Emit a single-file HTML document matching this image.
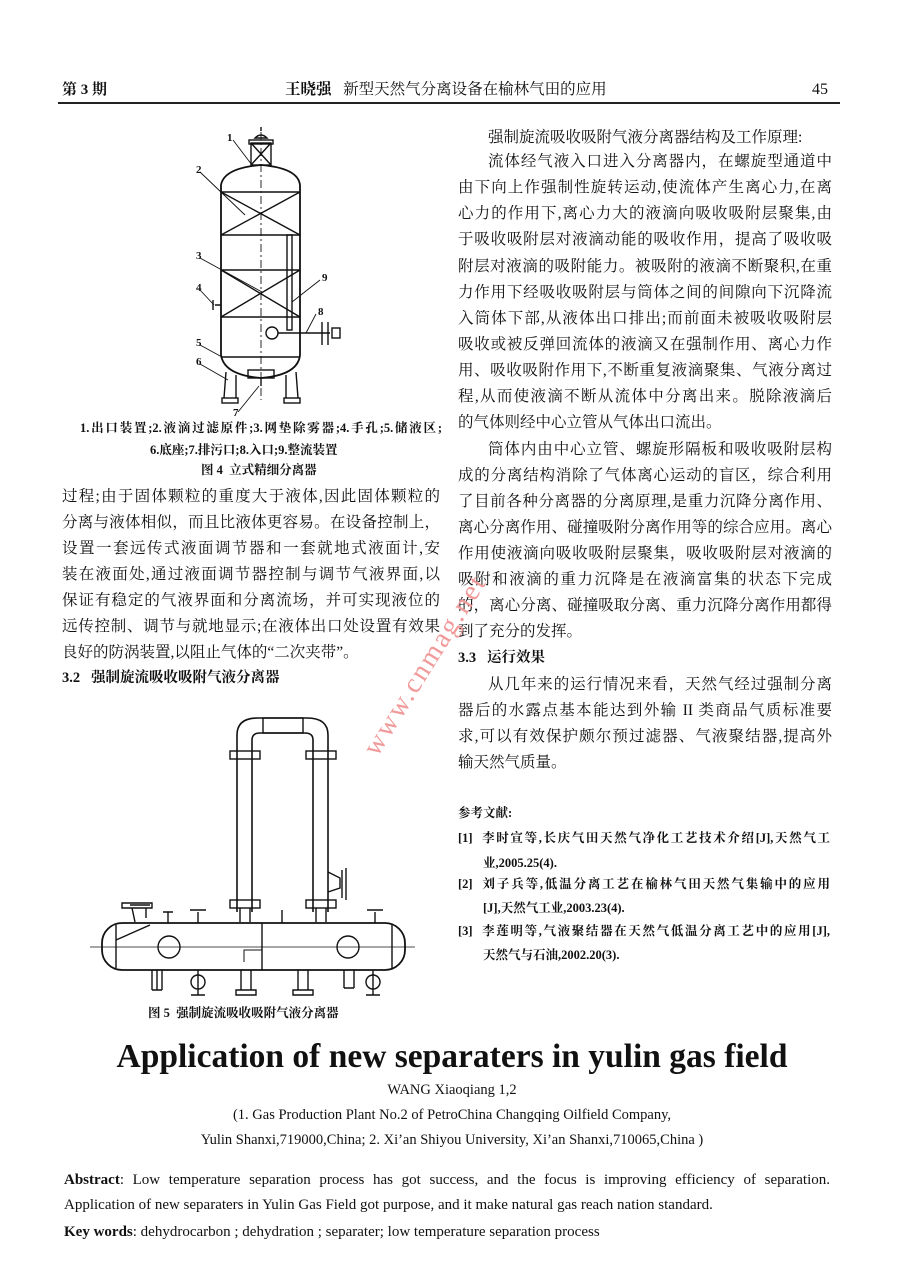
<!DOCTYPE html>
<html><head><meta charset="utf-8">
<style>
body{margin:0;background:#fff;}
#p{position:relative;width:904px;height:1262px;overflow:hidden;background:#fff;font-family:"Liberation Serif","Noto Serif CJK SC","Noto Sans CJK SC",serif;color:#111;}
.l{position:absolute;white-space:nowrap;font-size:15.5px;line-height:20px;}
.j{text-align:justify;text-align-last:justify;}
.s{font-size:12.5px;font-weight:bold;}
.e{font-family:"Liberation Serif",serif;}
svg{position:absolute;left:0;top:0;}
</style></head><body><div id="p">

<div class="l" style="left:62px;top:80px;font-weight:bold;font-size:15px">第 3 期</div>
<div class="l" style="left:285px;top:80px;font-size:15.5px"><b>王晓强</b>&nbsp;&nbsp;&nbsp;新型天然气分离设备在榆林气田的应用</div>
<div class="l e" style="left:812px;top:80px;font-size:16px">45</div>
<div style="position:absolute;left:58px;top:102px;width:782px;height:2px;background:#222"></div>

<!-- right column -->
<div class="l" style="left:488px;top:128px">强制旋流吸收吸附气液分离器结构及工作原理:</div>
<div class="l j" style="left:488px;top:152px;width:344px">流体经气液入口进入分离器内，在螺旋型通道中</div>
<div class="l j" style="left:458px;top:178px;width:374px">由下向上作强制性旋转运动,使流体产生离心力,在离</div>
<div class="l j" style="left:458px;top:204px;width:374px">心力的作用下,离心力大的液滴向吸收吸附层聚集,由</div>
<div class="l j" style="left:458px;top:230px;width:374px">于吸收吸附层对液滴动能的吸收作用，提高了吸收吸</div>
<div class="l j" style="left:458px;top:257px;width:374px">附层对液滴的吸附能力。被吸附的液滴不断聚积,在重</div>
<div class="l j" style="left:458px;top:283px;width:374px">力作用下经吸收吸附层与筒体之间的间隙向下沉降流</div>
<div class="l j" style="left:458px;top:309px;width:374px">入筒体下部,从液体出口排出;而前面未被吸收吸附层</div>
<div class="l j" style="left:458px;top:335px;width:374px">吸收或被反弹回流体的液滴又在强制作用、离心力作</div>
<div class="l j" style="left:458px;top:361px;width:374px">用、吸收吸附作用下,不断重复液滴聚集、气液分离过</div>
<div class="l j" style="left:458px;top:387px;width:374px">程,从而使液滴不断从流体中分离出来。脱除液滴后</div>
<div class="l" style="left:458px;top:413px">的气体则经中心立管从气体出口流出。</div>
<div class="l j" style="left:488px;top:440px;width:344px">筒体内由中心立管、螺旋形隔板和吸收吸附层构</div>
<div class="l j" style="left:458px;top:466px;width:374px">成的分离结构消除了气体离心运动的盲区，综合利用</div>
<div class="l j" style="left:458px;top:492px;width:374px">了目前各种分离器的分离原理,是重力沉降分离作用、</div>
<div class="l j" style="left:458px;top:518px;width:374px">离心分离作用、碰撞吸附分离作用等的综合应用。离心</div>
<div class="l j" style="left:458px;top:544px;width:374px">作用使液滴向吸收吸附层聚集，吸收吸附层对液滴的</div>
<div class="l j" style="left:458px;top:570px;width:374px">吸附和液滴的重力沉降是在液滴富集的状态下完成</div>
<div class="l j" style="left:458px;top:596px;width:374px">的，离心分离、碰撞吸取分离、重力沉降分离作用都得</div>
<div class="l" style="left:458px;top:622px">到了充分的发挥。</div>
<div class="l" style="left:458px;top:648px;font-weight:bold;font-size:14.5px">3.3&nbsp;&nbsp;&nbsp;运行效果</div>
<div class="l j" style="left:488px;top:675px;width:344px">从几年来的运行情况来看，天然气经过强制分离</div>
<div class="l j" style="left:458px;top:701px;width:374px">器后的水露点基本能达到外输 II 类商品气质标准要</div>
<div class="l j" style="left:458px;top:727px;width:374px">求,可以有效保护颇尔预过滤器、气液聚结器,提高外</div>
<div class="l" style="left:458px;top:753px">输天然气质量。</div>

<div class="l s" style="left:458px;top:803px">参考文献:</div>
<div class="l s j" style="left:458px;top:828px;width:372px">[1]&nbsp;&nbsp;李时宣等,长庆气田天然气净化工艺技术介绍[J],天然气工</div>
<div class="l s" style="left:483px;top:853px">业,2005.25(4).</div>
<div class="l s j" style="left:458px;top:874px;width:372px">[2]&nbsp;&nbsp;刘子兵等,低温分离工艺在榆林气田天然气集输中的应用</div>
<div class="l s" style="left:483px;top:898px">[J],天然气工业,2003.23(4).</div>
<div class="l s j" style="left:458px;top:921px;width:372px">[3]&nbsp;&nbsp;李莲明等,气液聚结器在天然气低温分离工艺中的应用[J],</div>
<div class="l s" style="left:483px;top:945px">天然气与石油,2002.20(3).</div>

<!-- left column -->
<div class="l s j" style="left:80px;top:418px;width:362px">1.出口装置;2.液滴过滤原件;3.网垫除雾器;4.手孔;5.储液区;</div>
<div class="l s" style="left:150px;top:440px">6.底座;7.排污口;8.入口;9.整流装置</div>
<div class="l s" style="left:201px;top:460px">图 4&nbsp;&nbsp;立式精细分离器</div>
<div class="l j" style="left:62px;top:487px;width:378px">过程;由于固体颗粒的重度大于液体,因此固体颗粒的</div>
<div class="l j" style="left:62px;top:513px;width:378px">分离与液体相似，而且比液体更容易。在设备控制上，</div>
<div class="l j" style="left:62px;top:539px;width:378px">设置一套远传式液面调节器和一套就地式液面计,安</div>
<div class="l j" style="left:62px;top:565px;width:378px">装在液面处,通过液面调节器控制与调节气液界面,以</div>
<div class="l j" style="left:62px;top:591px;width:378px">保证有稳定的气液界面和分离流场，并可实现液位的</div>
<div class="l j" style="left:62px;top:617px;width:378px">远传控制、调节与就地显示;在液体出口处设置有效果</div>
<div class="l" style="left:62px;top:643px">良好的防涡装置,以阻止气体的“二次夹带”。</div>
<div class="l" style="left:62px;top:668px;font-weight:bold;font-size:14.5px">3.2&nbsp;&nbsp;&nbsp;强制旋流吸收吸附气液分离器</div>
<div class="l s" style="left:148px;top:1003px">图 5&nbsp;&nbsp;强制旋流吸收吸附气液分离器</div>

<svg width="904" height="1262" viewBox="0 0 904 1262" fill="none" stroke="#111" stroke-width="1.4">
<path d="M255,138 Q261,132 267,138 Z M261,131 V127"/>
<rect x="251" y="143" width="20" height="22"/><rect x="249" y="140" width="24" height="4"/>
<path d="M251,143 L271,165 M271,143 L251,165"/>
<path d="M221,355 V185 Q224,168 261,165 Q298,168 300,185 V355 Q298,375 261,378 Q224,375 221,355 Z" stroke-width="1.8"/>
<path d="M221,192 H300 M221,235 H300 M221,270 H300 M221,317 H300 M221,357 H300"/>
<path d="M221,192 L300,235 M300,192 L221,235 M221,270 L300,317 M300,270 L221,317"/>
<path d="M261,132 V400" stroke-dasharray="8 3 2 3" stroke-width="0.9"/>
<rect x="287" y="235" width="5" height="95"/>
<circle cx="272" cy="333" r="6"/><path d="M278,333 H330 M322,322 V345 M328,322 V345"/><rect x="332" y="328" width="8" height="10"/>
<path d="M215,305 H221 M213,300 V310"/>
<rect x="248" y="370" width="26" height="8"/><path d="M261,378 V386"/>
<path d="M226,372 L224,398 M236,375 L236,398 M286,375 L286,398 M296,372 L298,398"/>
<rect x="222" y="398" width="16" height="5"/><rect x="284" y="398" width="16" height="5"/>
<path d="M233,140 L252,165 M200,172 L245,215 M200,258 L262,292 M200,290 L214,305 M200,345 L222,357 M200,364 L228,380 M238,412 L259,386 M316,314 L306,333 M320,280 L292,302" stroke-width="0.9"/>
<rect x="102" y="923" width="303" height="47" rx="20" stroke-width="1.8"/>
<path d="M262,923 V970 M116,925 V968 M392,925 V968"/>
<path d="M90,947 H415" stroke-width="0.8"/>
<circle cx="169" cy="947" r="11"/><circle cx="348" cy="947" r="11"/>
<path d="M237,912 V735 Q237,718 258,718 H307 Q328,718 328,735 V912 M252,912 V740 Q252,733 260,733 H305 Q313,733 313,740 V912" stroke-width="1.6"/>
<rect x="263" y="718" width="40" height="15"/>
<rect x="230" y="751" width="30" height="8"/><rect x="306" y="751" width="30" height="8"/>
<rect x="230" y="900" width="30" height="8"/><rect x="306" y="900" width="30" height="8"/>
<path d="M240,908 V922 M250,908 V922 M316,908 V922 M326,908 V922"/>
<path d="M328,872 L340,878 V888 L328,892 M342,870 V898 M346,868 V900"/>
<path d="M130,905 H150 M122,903 H152 V908 H122 Z M132,908 L135,922 M146,908 L146,918 M116,940 L150,925"/>
<path d="M168,912 V923 M163,912 H173 M198,912 V923 M190,910 H206 M282,910 V923 M375,912 V923 M367,910 H383"/>
<path d="M157,970 V990 M152,970 V990 M162,970 V990 M152,990 H162"/>
<circle cx="198" cy="982" r="7"/><path d="M198,970 V995 M191,995 H205"/>
<path d="M241,970 V990 M251,970 V990 M236,990 H256 V995 H236 Z"/>
<path d="M298,970 V990 M308,970 V990 M293,990 H313 V995 H293 Z"/>
<path d="M344,970 V988 M354,970 V988 M344,988 H354"/>
<circle cx="373" cy="982" r="7"/><path d="M373,970 V995 M366,995 H380"/>
<path d="M244,962 V950 H262" stroke-width="1"/>
</svg>
<div class="l s" style="left:227px;top:128px;font-size:11px">1</div>
<div class="l s" style="left:196px;top:160px;font-size:11px">2</div>
<div class="l s" style="left:196px;top:246px;font-size:11px">3</div>
<div class="l s" style="left:196px;top:278px;font-size:11px">4</div>
<div class="l s" style="left:196px;top:333px;font-size:11px">5</div>
<div class="l s" style="left:196px;top:352px;font-size:11px">6</div>
<div class="l s" style="left:233px;top:403px;font-size:11px">7</div>
<div class="l s" style="left:318px;top:302px;font-size:11px">8</div>
<div class="l s" style="left:322px;top:268px;font-size:11px">9</div>

<div class="l e" style="left:362px;top:748px;font-size:28px;color:#f19a9a;transform:rotate(-58deg);transform-origin:0 0;letter-spacing:2px">www.cnmag.net</div>

<div class="l e" style="left:0;width:904px;text-align:center;top:1037px;font-size:33.5px;line-height:40px;font-weight:bold">Application of new separaters in yulin gas field</div>
<div class="l e" style="left:0;width:904px;text-align:center;top:1080px;font-size:14.5px">WANG Xiaoqiang 1,2</div>
<div class="l e" style="left:0;width:904px;text-align:center;top:1105px;font-size:14.5px">(1. Gas Production Plant No.2 of PetroChina Changqing Oilfield Company,</div>
<div class="l e" style="left:0;width:904px;text-align:center;top:1130px;font-size:14.5px">Yulin Shanxi,719000,China; 2. Xi’an Shiyou University, Xi’an Shanxi,710065,China )</div>
<div class="l e j" style="left:64px;top:1170px;width:766px;font-size:15px"><b>Abstract</b>: Low temperature separation process has got success, and the focus is improving efficiency of separation.</div>
<div class="l e" style="left:64px;top:1195px;font-size:15px">Application of new separaters in Yulin Gas Field got purpose, and it make natural gas reach nation standard.</div>
<div class="l e" style="left:64px;top:1222px;font-size:15px"><b>Key words</b>: dehydrocarbon ; dehydration ; separater; low temperature separation process</div>
</div></body></html>
